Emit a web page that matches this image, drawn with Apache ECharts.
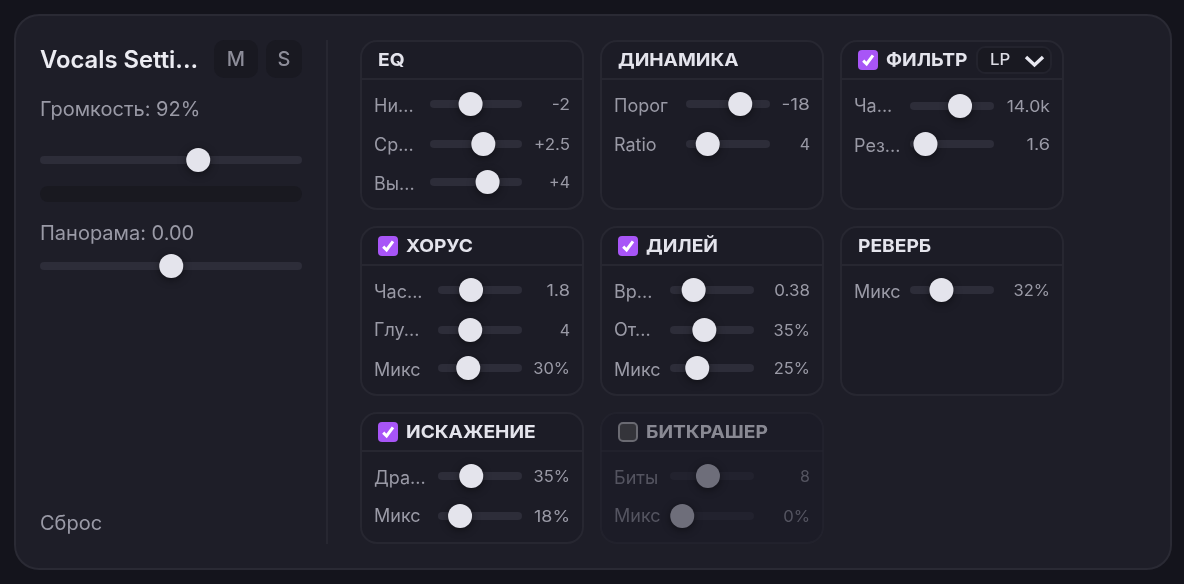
<!DOCTYPE html>
<html><head><meta charset="utf-8">
<style>html,body{margin:0;padding:0;background:#14141c;overflow:hidden}#c{width:1184px;height:584px}</style>
<script src="https://cdn.jsdelivr.net/npm/echarts@6/dist/echarts.min.js"></script>
</head><body><div id="c"></div>
<script>
// ---- data ----
const trackTitle = 'Vocals Setti...';
const volumeLabels = ['Громкость: 92%', 'Панорама: 0.00'];
const masterValues = [92, 0];
const masterMin = [0, -1];
const masterMax = [150, 1];
const panelTitles = ['EQ','ДИНАМИКА','ФИЛЬТР','ХОРУС','ДИЛЕЙ','РЕВЕРБ','ИСКАЖЕНИЕ','БИТКРАШЕР'];
const panelChecks = [null,null,true,true,true,null,true,false];
const paramNames = [['Ни...','Ср...','Вы...'],['Порог','Ratio'],['Ча...','Рез...'],['Час...','Глу...','Микс'],['Вр...','От...','Микс'],['Микс'],['Дра...','Микс'],['Биты','Микс']];
const paramValues = [[-2,2.5,4],[-18,4],[14000,1.6],[1.8,4,30],[0.38,35,25],[32],[35,18],[8,0]];
const paramText = [['-2','+2.5','+4'],['-18','4'],['14.0k','1.6'],['1.8','4','30%'],['0.38','35%','25%'],['32%'],['35%','18%'],['8','0%']];
const paramMin = [[-12,-12,-12],[-60,1],[20,0.1],[0.1,0,0],[0,0,0],[0],[0,0],[2,0]];
const paramMax = [[12,12,12],[0,20],[22200,28],[5,12,100],[2,95,100],[100],[100,110],[16,100]];
// ---- layout ----
const panelX = [361,601,841,361,601,841,361,601];
const panelY = [41,41,41,227,227,227,413,413];
const panelH = [168,168,168,168,168,168,130,130];
const rowY = [[104,144,182],[104,144],[106,144],[290,330,368],[290,330,368],[290],[476,516],[476,516]];
const labelDy = [[2,1,2],[2,1],[0,2],[2,0,2],[2,0,2],[2],[2,0],[2,0]];
const trackL = [[69,69,69],[85,85],[69,69],[77,77,77],[69,69,69],[69],[77,77],[69,69]];
const trackR = [161,169,153,161,153,153,161,153];
const valueStretch = {'-2':1.1,'+2.5':1.06,'+4':1.0,'-18':1.2,'4':1,'14.0k':1.1,'1.6':1.14,'1.8':1.14,'30%':1.03,'0.38':1.06,'35%':1.03,'25%':1.03,'32%':1.03,'18%':1.12,'8':1,'0%':1.04};
const F = 'Inter, "Noto Sans", sans-serif';
const C = {txt:'#9a9aa6', val:'#9a9aa6', head:'#e4e4ec', track:'#2d2d39', thumb:'#e4e4ec', panel:'#1c1c26', line:'#272731'};

const g = [], grids = [], xs = [], ys = [], ss = [];
function rect(x,y,w,h,r,fill,stroke,lw,op){g.push({type:'rect',shape:{x,y,width:w,height:h,r},style:{fill,stroke:stroke||null,lineWidth:lw||0,opacity:op==null?1:op},silent:true});}
function text(x,y,t,size,weight,fill,align,op,sx){g.push({type:'text',x,y,scaleX:sx||1,originX:0,originY:0,style:{text:t,font:`${weight} ${size}px ${F}`,fill,textAlign:align||'left',textVerticalAlign:'middle',opacity:op==null?1:op},silent:true,z:3});}
function poly(pts,stroke,lw){g.push({type:'polyline',shape:{points:pts},style:{stroke,lineWidth:lw,fill:null,lineCap:'butt',lineJoin:'miter'},silent:true,z:3});}
function slider(l,r,y,v,mn,mx,op,thumbCol){
  rect(l,y-4,r-l,8,4,C.track,null,0,op);
  const i=grids.length;
  grids.push({left:l+12.25,width:r-l-24,top:y-1,height:2,containLabel:false});
  xs.push({type:'value',gridIndex:i,min:mn,max:mx,show:false});
  ys.push({type:'category',gridIndex:i,data:[''],show:false});
  ss.push({type:'scatter',xAxisIndex:i,yAxisIndex:i,clip:false,symbol:'circle',symbolSize:24,silent:true,animation:false,
    data:[[v,0]],itemStyle:{color:thumbCol||C.thumb,opacity:1,shadowBlur:8,shadowOffsetY:2,shadowColor:'rgba(0,0,0,0.45)'},z:5});
}
// main card
rect(15,15,1156,554,24,'#1e1e28','#2a2a34',2);
rect(326,40,2,504,0,'#272731');
text(40,61,trackTitle,23.8,600,'#ecECf2');
rect(214,40,44,38,10,'#191921'); text(236,60,'M',20,500,'#8d8d99','center');
rect(266,40,36,38,10,'#191921'); text(284,60,'S',20,500,'#8d8d99','center');
text(40,110,volumeLabels[0],20,400,C.txt);
slider(40,302,160,masterValues[0],masterMin[0],masterMax[0],1);
rect(40,186,262,16,8,'#191920');
text(40,234,volumeLabels[1],20,400,C.txt);
slider(40,302,266,masterValues[1],masterMin[1],masterMax[1],1);
text(40,524,'Сброс',20,400,C.txt);
// panels
panelTitles.forEach((t,p)=>{
  const x=panelX[p], y=panelY[p], dis=panelChecks[p]===false, op=dis?0.45:1;
  rect(x,y,222,panelH[p],16,C.panel,C.line,2,dis?0.55:1);
  rect(x,y+37,222,2,0,C.line,null,0,dis?0.55:1);
  let tx=x+17;
  if(panelChecks[p]!==null){
    const bx=x+17, by=y+9;
    if(panelChecks[p]){
      rect(bx,by,20,20,4,'#a855f7');
      poly([[bx+5.2,by+10.6],[bx+8.6,by+14],[bx+15,by+5.4]],'#ffffff',3);
    } else rect(bx+1,by+1,18,18,4,'#34343a','#6a6a72',2);
    tx=x+45;
  }
  text(tx,y+20,t,18,700,C.head,'left',dis?0.55:1,1.066);
  if(p===2){
    rect(977,47,74,26,8,'#191921','#23232d',2);
    text(990,60,'LP',16,500,'#dcdce4','left',1,1.05);
    poly([[1026,57],[1034.5,65],[1043,57]],'#e8e8f0',3.4);
  }
  paramNames[p].forEach((n,i)=>{
    const yy=rowY[p][i];
    text(x+13,yy+labelDy[p][i]+1,n,18,400,C.txt,'left',op);
    text(x+209,yy+1,paramText[p][i],16,400,C.val,'right',op,valueStretch[paramText[p][i]]);
    slider(x+trackL[p][i],x+trackR[p],yy,paramValues[p][i],paramMin[p][i],paramMax[p][i],dis?0.4:1,dis?'#6e6e7a':null);
  });
});
const chart=echarts.init(document.getElementById('c'),null,{renderer:'canvas',width:1184,height:584});
chart.setOption({animation:false,backgroundColor:'#14141c',graphic:{elements:g},grid:grids,xAxis:xs,yAxis:ys,series:ss});
</script></body></html>
